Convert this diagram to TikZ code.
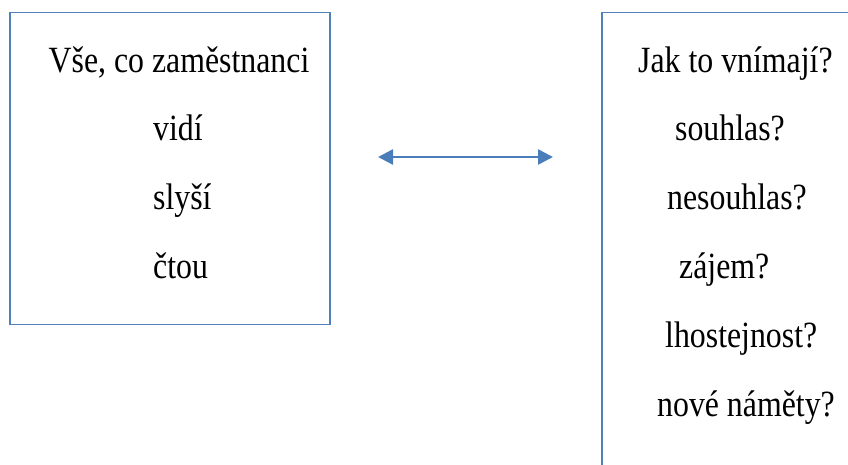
\documentclass[tikz,border=0pt]{standalone}
\usepackage{fontspec}
\setmainfont[FakeStretch=0.86]{Liberation Serif}
\usetikzlibrary{arrows.meta}
\definecolor{boxblue}{HTML}{4F81BD}
\definecolor{arrowblue}{HTML}{4A7EBB}
\begin{document}
\begin{tikzpicture}[x=1pt,y=-1pt,
  frame/.style={draw=boxblue,line width=1.4pt,inner sep=0pt,minimum width=#1},
  word/.style={anchor=base west,inner sep=0pt,font=\fontsize{37}{44}\selectfont}]
\useasboundingbox (0,0) rectangle (848,464);
\clip (0,0) rectangle (848,464);

\node[frame=320pt,minimum height=312pt] (leftbox) at (170,168.5) {};
\node[frame=300pt,minimum height=500pt] (rightbox) at (752,262.7) {};

\node[word] (vse) at (48.5,72) {Vše, co zaměstnanci};
\node[word] (vidi) at (153,140) {vidí};
\node[word] (slysi) at (153,209) {slyší};
\node[word] (ctou) at (153,278) {čtou};

\node[word] (jak) at (638,72) {Jak to vnímají?};
\node[word] (souhlas) at (675,140) {souhlas?};
\node[word] (nesouhlas) at (667,209) {nesouhlas?};
\node[word] (zajem) at (679,278) {zájem?};
\node[word] (lhost) at (665,347) {lhostejnost?};
\node[word] (namety) at (657,416) {nové náměty?};

\coordinate (arrowL) at (378,157);
\coordinate (arrowR) at (553,157);
\path[draw=arrowblue,line width=2.6pt,{Triangle[length=15pt,width=15pt]}-{Triangle[length=15pt,width=15pt]}] (arrowL) -- (arrowR);
\end{tikzpicture}
\end{document}
